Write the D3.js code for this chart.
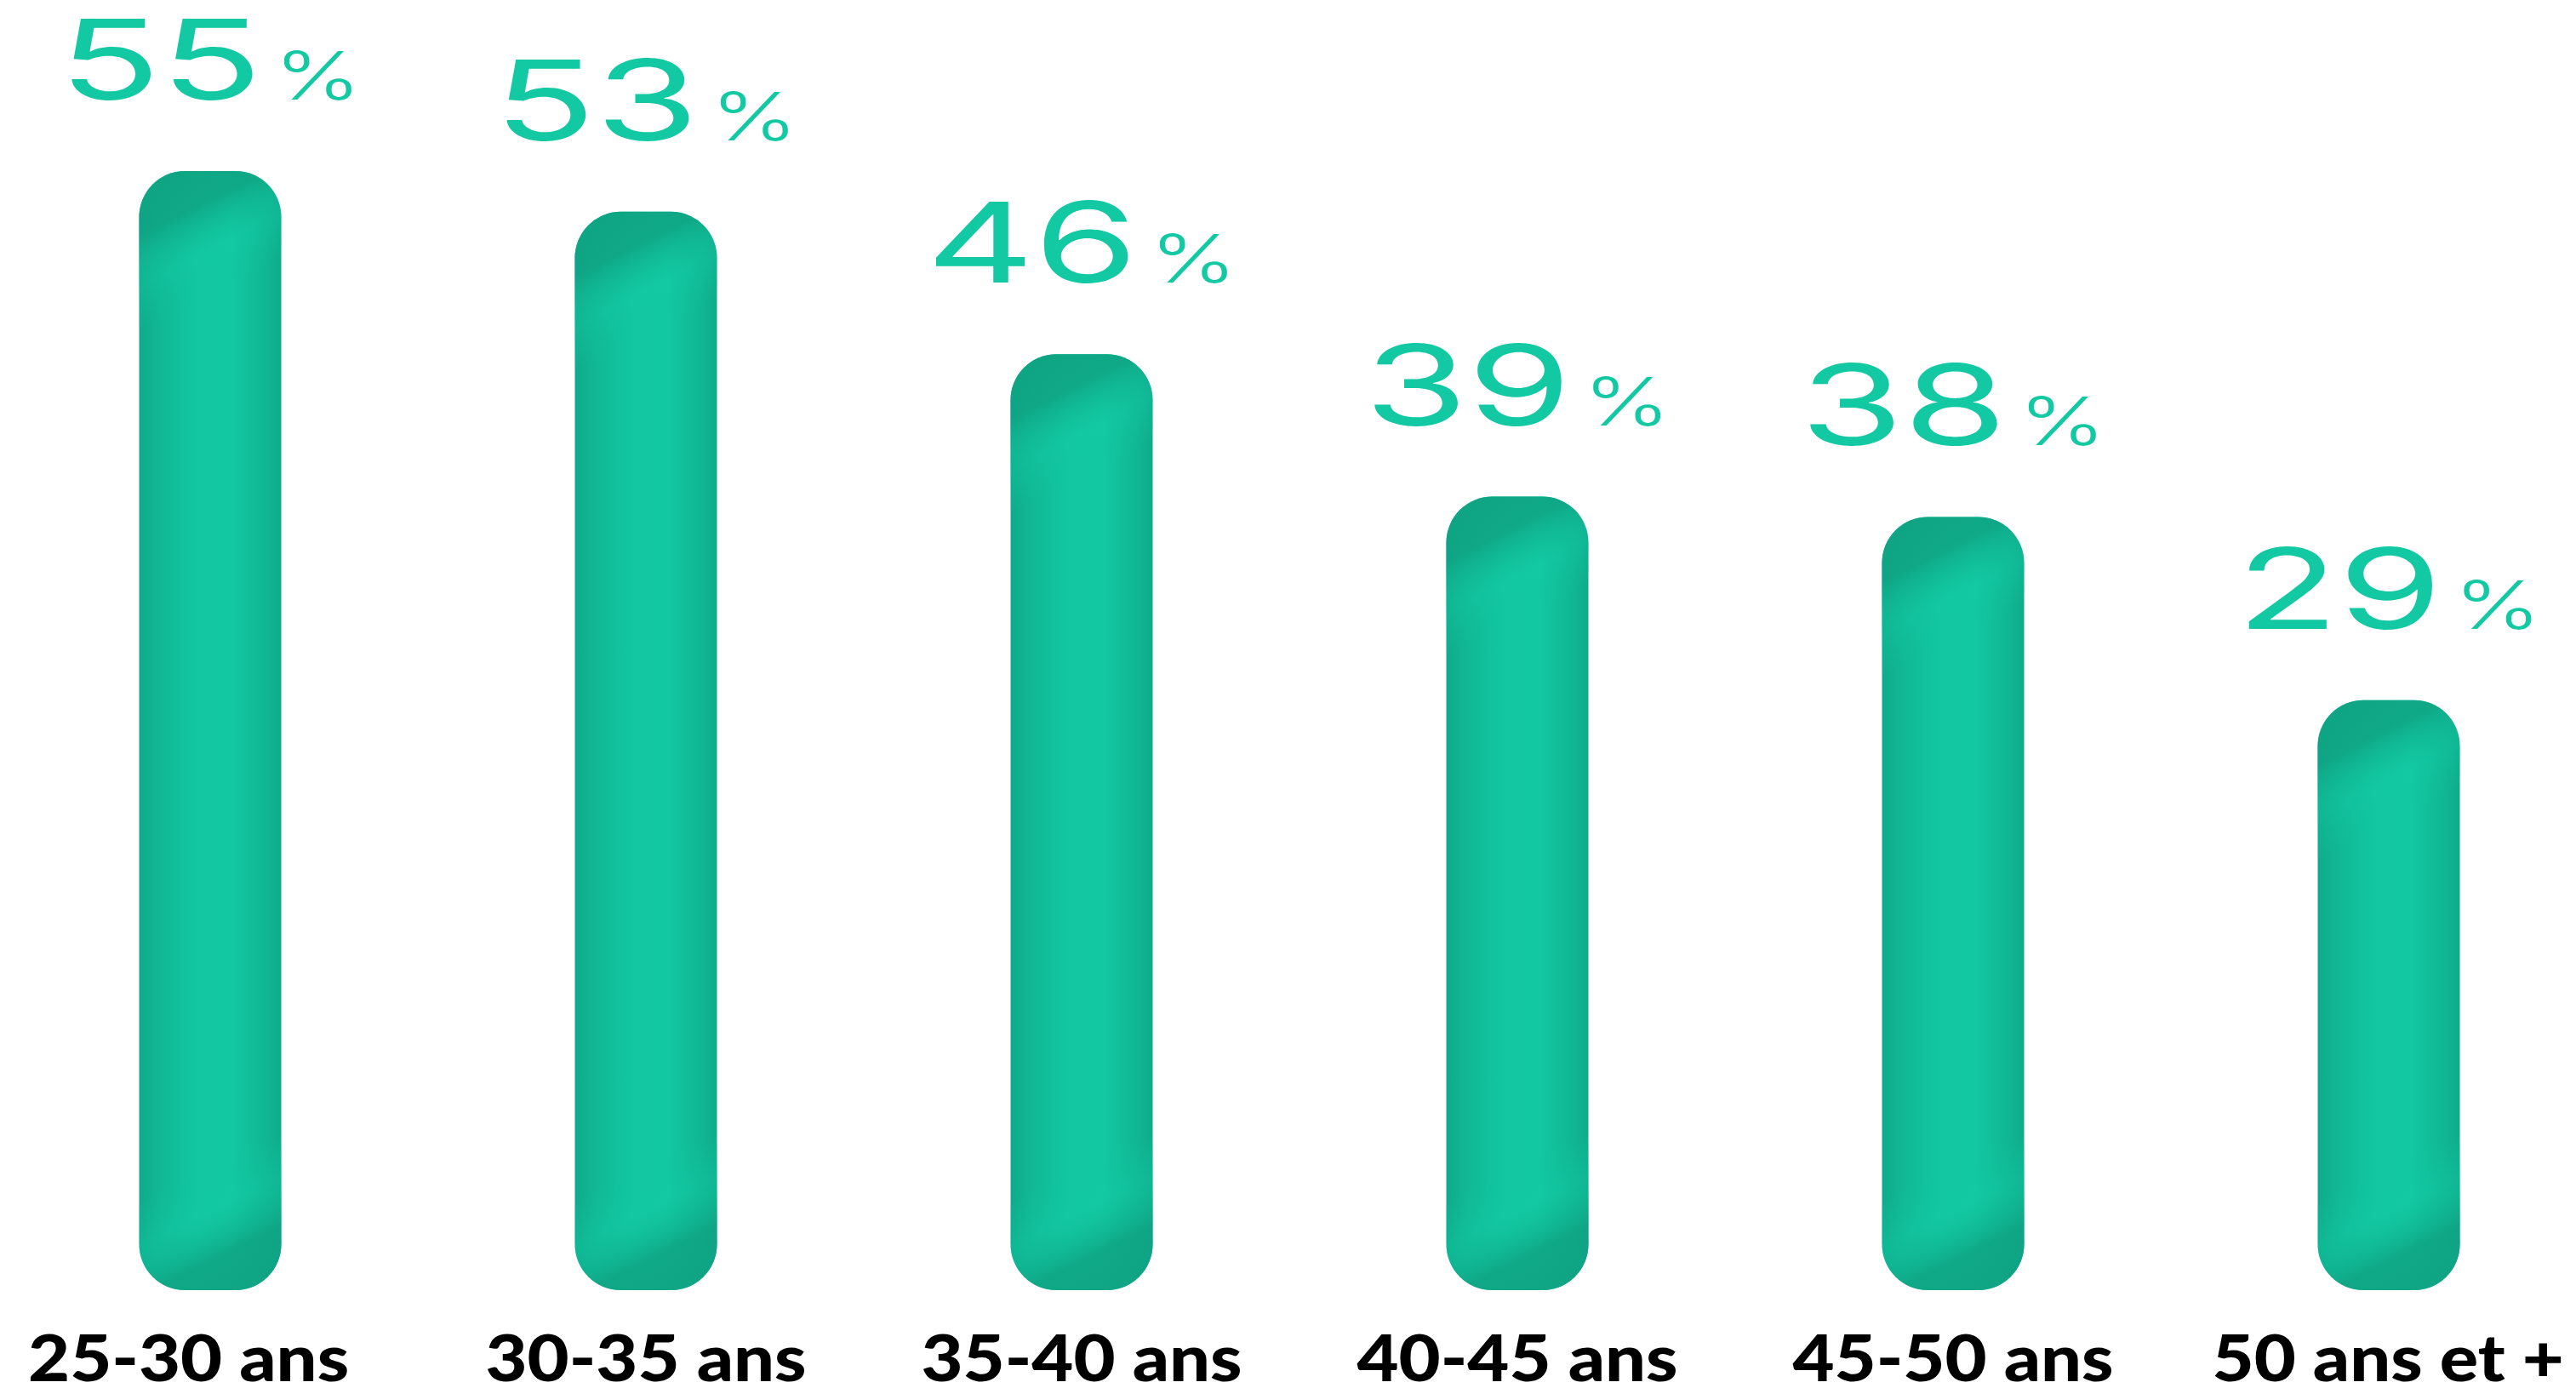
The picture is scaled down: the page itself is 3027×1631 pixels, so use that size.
<!DOCTYPE html>
<html>
<head>
<meta charset="utf-8">
<script src="https://cdn.jsdelivr.net/npm/d3@7"></script>
<style>
  html, body { margin: 0; padding: 0; background: #ffffff; }
  svg { display: block; }
</style>
</head>
<body>
<script>
// ---- Data ----
const categories = ["25-30 ans", "30-35 ans", "35-40 ans", "40-45 ans", "45-50 ans", "50 ans et +"];
const values = [55, 53, 46, 39, 38, 29];
const unit = "%";

// ---- Layout ----
const W = 3027, H = 1631;
const barW = 167, radius = 54;
const teal = "#13c9a3";

const svg = d3.select("body").append("svg").attr("width", W).attr("height", H);
const defs = svg.append("defs");

const x = d3.scalePoint().domain(categories).range([247, 2807]);
const y = d3.scaleLinear().domain([0, 55]).range([1516, 201]);

// base horizontal gradient
const gb = defs.append("linearGradient").attr("id", "gBase")
  .attr("x1", 0).attr("y1", 0).attr("x2", 1).attr("y2", 0);
[[0, "#0fab8a"], [0.15, "#11b896"], [0.4, "#12c6a1"], [0.65, "#12c8a2"], [0.88, "#10b795"], [1, "#0fab8a"]]
  .forEach(([o, c]) => gb.append("stop").attr("offset", o).attr("stop-color", c));

const capStops = [[0, "#0fa483", 1], [0.4, "#0fa483", 0.85], [0.72, "#13cba5", 0.35], [1, "#12c6a1", 0]];
const L = 170, nx = 0.447, ny = 0.894;

const data = categories.map((c, i) => ({ c, v: values[i], i }));

data.forEach(d => {
  const left = x(d.c) - barW / 2, right = x(d.c) + barW / 2;
  const top = y(d.v), bottom = y(0);
  const gt = defs.append("linearGradient").attr("id", "gTop" + d.i)
    .attr("gradientUnits", "userSpaceOnUse")
    .attr("x1", left).attr("y1", top).attr("x2", left + nx * L).attr("y2", top + ny * L);
  capStops.forEach(([o, c, a]) => gt.append("stop").attr("offset", o).attr("stop-color", c).attr("stop-opacity", a));
  const gbo = defs.append("linearGradient").attr("id", "gBot" + d.i)
    .attr("gradientUnits", "userSpaceOnUse")
    .attr("x1", right).attr("y1", bottom).attr("x2", right - nx * L).attr("y2", bottom - ny * L);
  capStops.forEach(([o, c, a]) => gbo.append("stop").attr("offset", o).attr("stop-color", c).attr("stop-opacity", a));
});

const bars = svg.append("g").selectAll("g").data(data).join("g");
["url(#gBase)", d => `url(#gTop${d.i})`, d => `url(#gBot${d.i})`].forEach(fill => {
  bars.append("rect")
    .attr("x", d => x(d.c) - barW / 2)
    .attr("y", d => y(d.v))
    .attr("width", barW)
    .attr("height", d => y(0) - y(d.v))
    .attr("rx", radius).attr("ry", radius)
    .attr("fill", fill);
});

// ---- Value labels ----
const numScale = 1.5, pctScale = 1.4, gapPct = 14, labelGap = 84;
data.forEach(d => {
  const g = svg.append("g");
  const baseY = y(d.v) - labelGap;
  const num = g.append("text")
    .attr("font-family", "Inter, 'DejaVu Sans', sans-serif")
    .attr("font-weight", 400)
    .attr("font-size", 131)
    .attr("fill", teal)
    .text(d.v);
  const pct = g.append("text")
    .attr("font-family", "Inter, 'DejaVu Sans', sans-serif")
    .attr("font-weight", 300)
    .attr("font-size", 78)
    .attr("fill", teal)
    .text(unit);
  const nw = num.node().getComputedTextLength() * numScale;
  const pw = pct.node().getComputedTextLength() * pctScale;
  const total = nw + gapPct + pw;
  const x0 = x(d.c) - total / 2;
  num.attr("transform", `translate(${x0},${baseY}) scale(${numScale},1)`);
  pct.attr("transform", `translate(${x0 + nw + gapPct},${baseY}) scale(${pctScale},1)`);
});

// ---- Category labels ----
const leftMargin = 33, rightMargin = 14, edgeSnap = 80, catBaseline = 1623, catScale = 1.1;
data.forEach(d => {
  const t = svg.append("text")
    .attr("font-family", "Lato, 'Open Sans', sans-serif")
    .attr("font-weight", 900)
    .attr("font-size", 77)
    .attr("fill", "#000000")
    .attr("text-anchor", "middle")
    .text(d.c);
  const w = t.node().getComputedTextLength() * catScale;
  let cx = x(d.c);
  if (cx - w / 2 < edgeSnap) cx = leftMargin + w / 2;
  if (cx + w / 2 > W - edgeSnap) cx = W - rightMargin - w / 2;
  t.attr("transform", `translate(${cx},${catBaseline}) scale(${catScale},1)`);
});
</script>
</body>
</html>
